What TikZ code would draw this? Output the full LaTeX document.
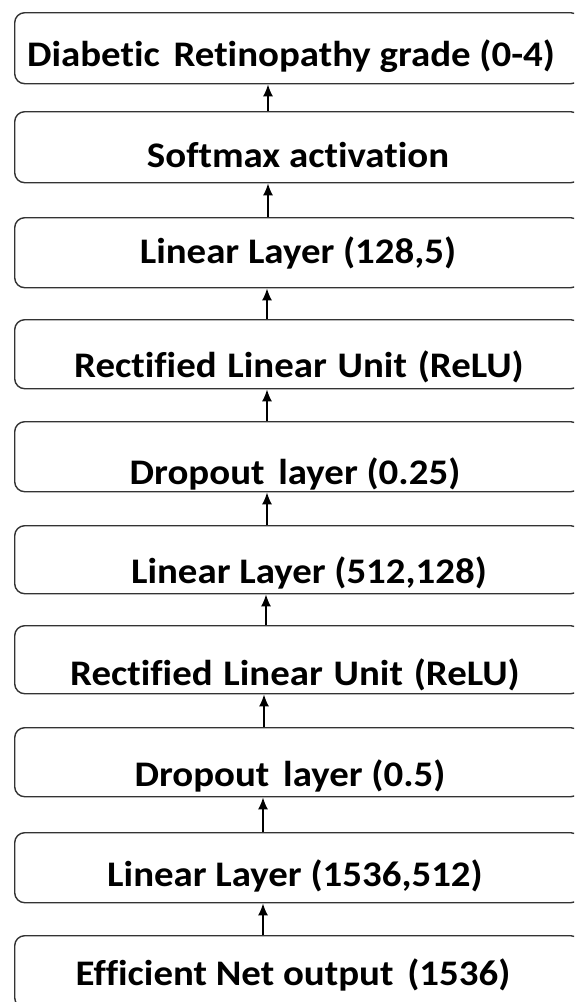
\documentclass[tikz,border=0pt]{standalone}
\usepackage{fontspec}
\setmainfont[Ligatures={NoCommon},FakeStretch=1.08]{Carlito}
\usetikzlibrary{arrows.meta}
\begin{document}
\begin{tikzpicture}[x=1pt,y=1pt,
  box/.style={draw=black!80, line width=1.4pt, rounded corners=10pt, anchor=north west, minimum width=566pt, inner sep=0pt},
  lbl/.style={anchor=base, font=\fontsize{36}{42}\selectfont\bfseries, text=black, inner sep=0pt},
  arr/.style={draw=black, line width=1.5pt, -{Latex[length=12pt,width=10pt]}}]
\useasboundingbox (0,0) rectangle (574,-1002);
\clip (0,0) rectangle (574,-1002);
% boxes
\node[box, minimum height=71pt] (b1) at (14,-12) {};
\node[box, minimum height=71pt] (b2) at (14,-111) {};
\node[box, minimum height=70pt] (b3) at (14,-217) {};
\node[box, minimum height=69pt] (b4) at (14,-319) {};
\node[box, minimum height=70pt] (b5) at (14,-421) {};
\node[box, minimum height=68pt] (b6) at (14,-525) {};
\node[box, minimum height=68pt] (b7) at (14,-625) {};
\node[box, minimum height=69pt] (b8) at (14,-727) {};
\node[box, minimum height=70pt] (b9) at (14,-832) {};
\node[box, minimum height=72pt] (b10) at (14,-935) {};
% labels
\node[lbl] (t1) at (291,-66) {Diabetic\hspace{5pt} Retinopathy grade (0-4)};
\node[lbl] (t2) at (298,-167) {Softmax activation};
\node[lbl] (t3) at (298,-263) {Linear Layer (128,5)};
\node[lbl] (t4) at (299,-377) {Rectified\hspace{2pt} Linear\hspace{2pt} Unit\hspace{2pt} (ReLU)};
\node[lbl] (t5) at (295,-484) {Dropout\hspace{5pt} layer (0.25)};
\node[lbl] (t6) at (309,-583) {Linear Layer (512,128)};
\node[lbl] (t7) at (295,-685) {Rectified\hspace{2pt} Linear\hspace{2pt} Unit\hspace{2pt} (ReLU)};
\node[lbl] (t8) at (290,-786) {Dropout\hspace{5pt} layer (0.5)};
\node[lbl] (t9) at (295,-886) {Linear Layer (1536,512)};
\node[lbl] (t10) at (293,-985) {Efficient Net output\hspace{5pt} (1536)};
% arrow columns
\coordinate (a1) at (268,0);
\coordinate (a2) at (267,0);
\coordinate (a3) at (266,0);
\coordinate (a4) at (264,0);
\coordinate (a5) at (263,0);
\draw[arr] (b2.north -| a1) -- (b1.south -| a1);
\draw[arr] (b3.north -| a1) -- (b2.south -| a1);
\draw[arr] (b4.north -| a2) -- (b3.south -| a2);
\draw[arr] (b5.north -| a2) -- (b4.south -| a2);
\draw[arr] (b6.north -| a2) -- (b5.south -| a2);
\draw[arr] (b7.north -| a3) -- (b6.south -| a3);
\draw[arr] (b8.north -| a4) -- (b7.south -| a4);
\draw[arr] (b9.north -| a5) -- (b8.south -| a5);
\draw[arr] (b10.north -| a5) -- (b9.south -| a5);
\end{tikzpicture}
\end{document}
